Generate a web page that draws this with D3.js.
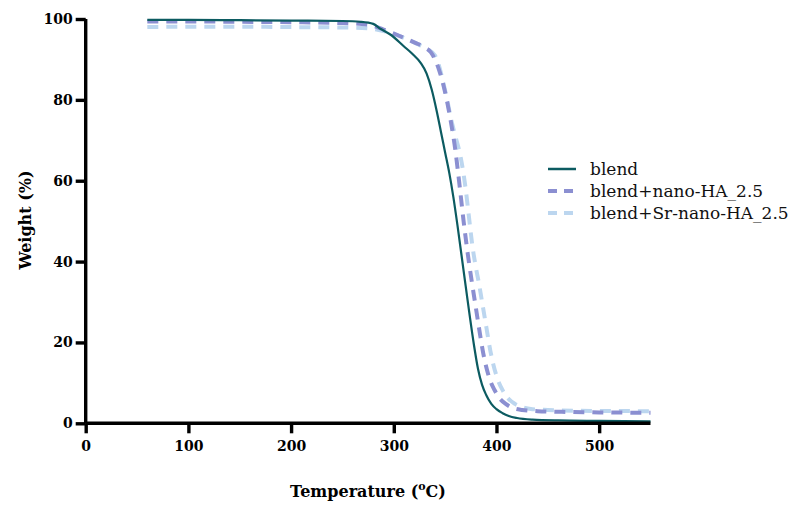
<!DOCTYPE html>
<html><head><meta charset="utf-8">
<script src="https://cdn.jsdelivr.net/npm/d3@7"></script>
<style>body{margin:0;background:#fff;} svg{display:block;}</style>
</head><body>
<svg id="c" width="798" height="505"></svg>
<script>
// ---- data ----
const seriesNames = ["blend", "blend+nano-HA_2.5", "blend+Sr-nano-HA_2.5"];
const xTicks = [0, 100, 200, 300, 400, 500];
const yTicks = [0, 20, 40, 60, 80, 100];

const blendT = [60,100,150,200,250,268,280,287,297,310,318,326,332,337,342,346,350,354,358,362,366,370,374,378,382,386,390,395,400,406,412,420,435,460,500,550];
const blendW = [99.8,99.8,99.7,99.6,99.5,99.3,98.8,97.6,96.1,93.2,91.4,89.2,86.5,82.5,77,72,67,62,56,49,41.5,34,26.5,19.5,13.5,9.5,7,4.8,3.5,2.5,1.8,1.3,0.9,0.7,0.6,0.5];

const nanoT = [60,100,150,200,250,275,290,303,313,321,330,336,341,344,348,352,356,360,364,368,372,376,380,384,387,391,394,398,403,409,415,425,440,470,500,550];
const nanoW = [99.4,99.4,99.3,99.2,99.0,98.6,97.4,96.1,95.0,94.1,93.0,91.8,89.5,87.5,84,79.5,74,67.5,59,50,42,35,28.5,22,17.5,13,10.5,8.3,6.2,4.8,3.9,3.3,3.0,2.8,2.7,2.6];

const srT = [60,100,150,200,250,275,290,303,315,325,333,340,344,348,352,356,360,365,370,373,376.5,380,383,386,390,394,397,401,406,412,418,425,435,450,480,550];
const srW = [98.0,98.1,98.1,98.0,97.9,97.7,97.0,96.0,94.8,93.6,92.5,91.0,88.5,84.5,80,75,71,66,58,51.5,44,38.5,34.5,30,24,18,14.5,11,8.2,6.0,4.8,4.0,3.5,3.3,3.1,3.0];

const seriesT = [blendT, nanoT, srT];
const seriesW = [blendW, nanoW, srW];
const colors = ["#0c5b61", "#8b8fd1", "#bcd6ef"];
const dashes = [null, "11,8", "11,8"];
const widths = [2.2, 4, 4];

// ---- layout ----
const svg = d3.select("#c");
const x = d3.scaleLinear().domain([0, 550]).range([85.7, 650.5]);
const y = d3.scaleLinear().domain([0, 100]).range([423.3, 19]);
const font = "'DejaVu Serif', serif";

const line = d3.line().x(d => x(d[0])).y(d => y(d[1])).curve(d3.curveMonotoneX);

// draw series (light first so dark is on top)
[2, 1, 0].forEach(i => {
  const pts = seriesT[i].map((t, j) => [t, seriesW[i][j]]);
  svg.append("path").datum(pts)
    .attr("d", line)
    .attr("fill", "none")
    .attr("stroke", colors[i])
    .attr("stroke-width", widths[i])
    .attr("stroke-dasharray", dashes[i])
    .attr("stroke-linejoin", "round");
});

// axes
const xAxis = d3.axisBottom(x).tickValues(xTicks).tickSize(10).tickPadding(8).tickFormat(d3.format("d"));
const yAxis = d3.axisLeft(y).tickValues(yTicks).tickSize(10).tickPadding(3).tickFormat(d3.format("d"));

const gx = svg.append("g").attr("transform", `translate(0,${y(0)})`).call(xAxis);
const gy = svg.append("g").attr("transform", `translate(${x(0)},0)`).call(yAxis);
[gx, gy].forEach(g => {
  g.select(".domain").attr("stroke", "#000").attr("stroke-width", 3.4);
  g.selectAll(".tick line").attr("stroke", "#000").attr("stroke-width", 3.4);
  g.selectAll(".tick text").attr("fill", "#000")
    .style("font-family", font).style("font-weight", "bold").style("font-size", "14px");
});
gx.select(".domain").attr("d", `M${x(0)},0H${x(550)}`);
gy.select(".domain").attr("d", `M0,${y(0)}V${y(100)}`);

// axis titles
const xt = svg.append("text")
  .attr("x", 368).attr("y", 497)
  .attr("text-anchor", "middle")
  .style("font-family", font).style("font-weight", "bold").style("font-size", "16px");
xt.append("tspan").text("Temperature (");
xt.append("tspan").text("o").attr("dy", -7).style("font-size", "11px");
xt.append("tspan").text("C)").attr("dy", 7);

svg.append("text")
  .attr("transform", "translate(31,220) rotate(-90)")
  .attr("text-anchor", "middle")
  .style("font-family", font).style("font-weight", "bold").style("font-size", "16px")
  .text("Weight (%)");

// legend
const legY = [169, 191, 213];
seriesNames.forEach((name, i) => {
  svg.append("line")
    .attr("x1", 548).attr("x2", 576)
    .attr("y1", legY[i]).attr("y2", legY[i])
    .attr("stroke", colors[i])
    .attr("stroke-width", i === 0 ? 2.5 : 4)
    .attr("stroke-dasharray", i === 0 ? null : "9,7");
  svg.append("text")
    .attr("x", 590).attr("y", legY[i] + 6)
    .style("font-family", font).style("font-size", "17px").attr("fill", "#111")
    .text(name);
});
</script>
</body></html>
